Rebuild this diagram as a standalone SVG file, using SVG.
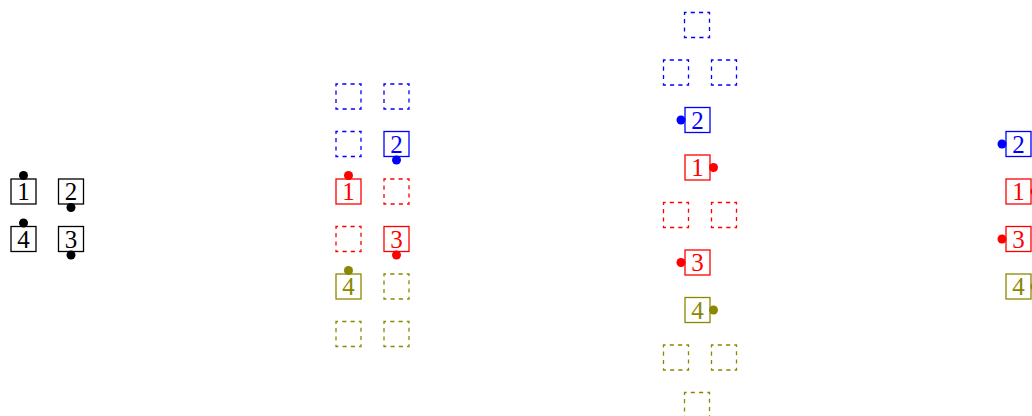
<svg xmlns="http://www.w3.org/2000/svg" width="1032" height="416" viewBox="0 0 1032 416">
<style>
rect{fill:none;stroke-width:1.3}
.d{stroke-dasharray:4.15 4.15;stroke-dashoffset:2.07}
text{font-family:"Liberation Serif","DejaVu Serif",serif;font-size:25px;text-anchor:middle}
.k rect{stroke:#000}.k text,.k circle{fill:#000}
.b rect{stroke:#0000ff}.b text,.b circle{fill:#0000ff}
.r rect{stroke:#ff0000}.r text,.r circle{fill:#ff0000}
.o rect{stroke:#8c8700}.o text,.o circle{fill:#8c8700}
</style>
<g id="group-a">
<g id="a1" class="k"><rect x="11" y="179" width="25" height="25"/><text x="23.5" y="200">1</text><circle cx="23.5" cy="175.5" r="4.5"/></g>
<g id="a2" class="k"><rect x="58.5" y="179" width="25" height="25"/><text x="71" y="200">2</text><circle cx="71" cy="207.5" r="4.5"/></g>
<g id="a4" class="k"><rect x="11" y="226.5" width="25" height="25"/><text x="23.5" y="247.5">4</text><circle cx="23.5" cy="223" r="4.5"/></g>
<g id="a3" class="k"><rect x="58.5" y="226.5" width="25" height="25"/><text x="71" y="247.5">3</text><circle cx="71" cy="255" r="4.5"/></g>
</g>
<g id="group-b">
<g id="b-d1" class="b"><rect class="d" x="336" y="84" width="25" height="25"/></g>
<g id="b-d2" class="b"><rect class="d" x="384" y="84" width="25" height="25"/></g>
<g id="b-d3" class="b"><rect class="d" x="336" y="131.5" width="25" height="25"/></g>
<g id="b2" class="b"><rect x="384" y="131.5" width="25" height="25"/><text x="396.5" y="152.5">2</text><circle cx="396.5" cy="160" r="4.5"/></g>
<g id="b1" class="r"><rect x="336" y="179" width="25" height="25"/><text x="348.5" y="200">1</text><circle cx="348.5" cy="175.5" r="4.5"/></g>
<g id="b-d4" class="r"><rect class="d" x="384" y="179" width="25" height="25"/></g>
<g id="b-d5" class="r"><rect class="d" x="336" y="226.5" width="25" height="25"/></g>
<g id="b3" class="r"><rect x="384" y="226.5" width="25" height="25"/><text x="396.5" y="247.5">3</text><circle cx="396.5" cy="255" r="4.5"/></g>
<g id="b4" class="o"><rect x="336" y="274" width="25" height="25"/><text x="348.5" y="295">4</text><circle cx="348.5" cy="270.5" r="4.5"/></g>
<g id="b-d6" class="o"><rect class="d" x="384" y="274" width="25" height="25"/></g>
<g id="b-d7" class="o"><rect class="d" x="336" y="321.5" width="25" height="25"/></g>
<g id="b-d8" class="o"><rect class="d" x="384" y="321.5" width="25" height="25"/></g>
</g>
<g id="group-c">
<g id="c-d1" class="b"><rect class="d" x="684.5" y="12.5" width="25" height="25"/></g>
<g id="c-d2" class="b"><rect class="d" x="663.5" y="60" width="25" height="25"/></g>
<g id="c-d3" class="b"><rect class="d" x="711.5" y="60" width="25" height="25"/></g>
<g id="c2" class="b"><rect x="685" y="107.5" width="25" height="25"/><text x="697.5" y="128.5">2</text><circle cx="681" cy="120" r="4.5"/></g>
<g id="c1" class="r"><rect x="685" y="155" width="25" height="25"/><text x="697.5" y="176">1</text><circle cx="713.5" cy="167.5" r="4.5"/></g>
<g id="c-d4" class="r"><rect class="d" x="663.5" y="202.5" width="25" height="25"/></g>
<g id="c-d5" class="r"><rect class="d" x="711.5" y="202.5" width="25" height="25"/></g>
<g id="c3" class="r"><rect x="685" y="250" width="25" height="25"/><text x="697.5" y="271">3</text><circle cx="681" cy="262.5" r="4.5"/></g>
<g id="c4" class="o"><rect x="685" y="297.5" width="25" height="25"/><text x="697.5" y="318.5">4</text><circle cx="713.5" cy="310" r="4.5"/></g>
<g id="c-d6" class="o"><rect class="d" x="663.5" y="345" width="25" height="25"/></g>
<g id="c-d7" class="o"><rect class="d" x="711.5" y="345" width="25" height="25"/></g>
<g id="c-d8" class="o"><rect class="d" x="684.5" y="392.5" width="25" height="25"/></g>
</g>
<g id="group-d">
<g id="d2" class="b"><rect x="1006" y="131.5" width="25" height="25"/><text x="1018.5" y="152.5">2</text><circle cx="1002" cy="144" r="4.5"/></g>
<g id="d1" class="r"><rect x="1006" y="179" width="25" height="25"/><text x="1018.5" y="200">1</text><circle cx="1035" cy="191.5" r="4.5"/></g>
<g id="d3" class="r"><rect x="1006" y="226.5" width="25" height="25"/><text x="1018.5" y="247.5">3</text><circle cx="1002" cy="239" r="4.5"/></g>
<g id="d4" class="o"><rect x="1006" y="274" width="25" height="25"/><text x="1018.5" y="295">4</text><circle cx="1035" cy="286.5" r="4.5"/></g>
</g>
<g id="connectors"/>
</svg>
